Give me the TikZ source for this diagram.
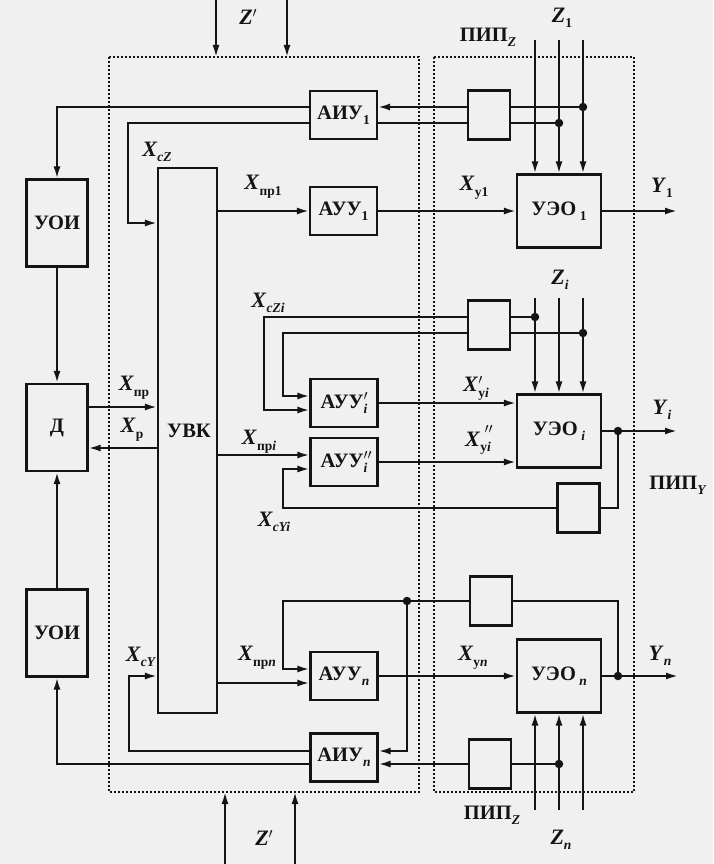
\documentclass[tikz,border=0pt]{standalone}
\usepackage{fontspec}
\setmainfont{Liberation Serif}
\usetikzlibrary{arrows.meta}
\definecolor{ink}{RGB}{20,20,20}
\definecolor{paper}{RGB}{240,240,240}
\newcommand\dn[1]{\raisebox{-0.55ex}{\fontsize{13.5}{13.5}\selectfont\bfseries #1}}
\newcommand\pr{\makebox[0pt][l]{\fontsize{21}{21}\selectfont$^{\prime}$}}
\newcommand\ppr{\makebox[0pt][l]{\fontsize{21}{21}\selectfont$^{\prime\prime}$}}
\newcommand\xl[2]{\textbf{\textit{#1}}\dn{#2}}
\begin{document}
\begin{tikzpicture}[x=1pt,y=-1pt,
  blk/.style={draw=ink, line width=2.2pt, inner sep=0pt, text=ink,
    font=\fontsize{20.5}{20.5}\selectfont\bfseries},
  au/.style={blk, minimum width=67pt, minimum height=48pt},
  pip/.style={blk, minimum width=42pt, minimum height=49pt},
  ueo/.style={blk, minimum width=84pt, minimum height=73pt},
  uoi/.style={blk, minimum width=61pt, minimum height=87pt},
  ln/.style={draw=ink, line width=2pt},
  arr/.style={ln, -{Latex[length=12pt,width=7pt]}},
  dot/.style={circle, fill=ink, inner sep=0pt, minimum size=8.5pt},
  lbl/.style={inner sep=0pt, text=ink, font=\fontsize{22}{22}\selectfont\bfseries},
  blbl/.style={inner sep=0pt, text=ink, font=\fontsize{20.5}{20.5}\selectfont\bfseries},
  dbox/.style={draw=ink, line width=1.6pt, dash pattern=on 2pt off 2pt}]
\fill[paper] (0,0) rectangle (713,864);
\useasboundingbox (0,0) rectangle (713,864);

% dashed frames
\draw[dbox] (109,57) rectangle (419,792);
\draw[dbox] (434,57) rectangle (634,792);

% blocks
\node[uoi] (uoi1) at (57,223) {УОИ};
\node[uoi] (d) at (57,427.5) {Д};
\node[uoi] (uoi2) at (57,633) {УОИ};
\node[blk, minimum width=59pt, minimum height=545pt] (uvk) at (187.5,440.5) {};
\node[blbl] (uvkl) at (189,431) {УВК};

\node[au] (aiu1) at (343.5,115) {АИУ\dn{1}};
\node[au] (auu1) at (343.5,211) {АУУ\dn{1}};
\node[au] (auui1) at (344,403) {АУУ\pr\dn{\textit{i}}};
\node[au] (auui2) at (344,462) {АУУ\ppr\dn{\textit{i}}};
\node[au] (auun) at (344,676) {АУУ\dn{\textit{n}}};
\node[au] (aiun) at (344,757.5) {АИУ\dn{\textit{n}}};

\node[pip] (pz1) at (489,115) {};
\node[pip] (pzi) at (489,325) {};
\node[pip] (pyi) at (578.5,508) {};
\node[pip] (pyn) at (491,601) {};
\node[pip] (pzn) at (490,764) {};

\node[ueo] (ueo1) at (559,211) {УЭО\,\dn{1}};
\node[ueo] (ueoi) at (559,431) {УЭО\,\dn{\textit{i}}};
\node[ueo] (ueon) at (559,676) {УЭО\,\dn{\textit{n}}};

% Z' inputs
\coordinate (zt1) at (216,0);   \coordinate (zt1e) at (216,57);
\coordinate (zt2) at (287,0);   \coordinate (zt2e) at (287,57);
\coordinate (zb1) at (225,864); \coordinate (zb1e) at (225,792);
\coordinate (zb2) at (295,864); \coordinate (zb2e) at (295,792);
\draw[arr] (zt1) -- (zt1e);
\draw[arr] (zt2) -- (zt2e);
\draw[arr] (zb1) -- (zb1e);
\draw[arr] (zb2) -- (zb2e);

% ---------- row 1
\node[dot] (d1a) at (583,107) {};
\node[dot] (d1b) at (559,123) {};
\coordinate (z1a) at (535,40);
\coordinate (z1b) at (559,40);
\coordinate (z1c) at (583,40);
\draw[arr] (z1a) -- (z1a |- ueo1.north);
\draw[arr] (z1b) -- (z1b |- ueo1.north);
\draw[arr] (z1c) -- (z1c |- ueo1.north);
\draw[ln] ([yshift=8pt]pz1.east) -- (d1a);
\draw[ln] ([yshift=-8pt]pz1.east) -- (d1b);
\draw[arr] ([yshift=8pt]pz1.west) -- ([yshift=8pt]aiu1.east);
\draw[ln] ([yshift=-8pt]pz1.west) -- ([yshift=-8pt]aiu1.east);
\draw[arr] ([yshift=8pt]aiu1.west) -| (uoi1.north);
\coordinate (xcz) at (128,223);
\draw[arr] ([yshift=-8pt]aiu1.west) -| (xcz) -- (xcz -| uvk.west);
\draw[arr] (auu1.west -| uvk.east) -- (auu1.west);
\draw[arr] (auu1.east) -- (auu1.east -| ueo1.west);
\coordinate (y1) at (677,211);
\draw[arr] (ueo1.east) -- (y1);

% ---------- left column
\draw[arr] (uoi1.south) -- (d.north);
\draw[arr] (uoi2.north) -- (d.south);
\draw[arr] ([yshift=20.5pt]d.east) -- ([yshift=20.5pt]d.east -| uvk.west);
\draw[arr] ([yshift=-20.5pt]d.east -| uvk.west) -- ([yshift=-20.5pt]d.east);

% ---------- row i
\node[dot] (dia) at (535,317) {};
\node[dot] (dib) at (583,333) {};
\coordinate (zia) at (535,298);
\coordinate (zib) at (559,298);
\coordinate (zic) at (583,298);
\draw[arr] (zia) -- (zia |- ueoi.north);
\draw[arr] (zib) -- (zib |- ueoi.north);
\draw[arr] (zic) -- (zic |- ueoi.north);
\draw[ln] ([yshift=8pt]pzi.east) -- (dia);
\draw[ln] ([yshift=-8pt]pzi.east) -- (dib);
\coordinate (lo1) at (264,410);
\coordinate (lo2) at (283,396);
\draw[arr] ([yshift=8pt]pzi.west) -| (lo1) -- (lo1 -| auui1.west);
\draw[arr] ([yshift=-8pt]pzi.west) -| (lo2) -- (lo2 -| auui1.west);
\draw[arr] ([yshift=7pt]auui2.west -| uvk.east) -- ([yshift=7pt]auui2.west);
\coordinate (lo3) at (283,469);
\draw[arr] (pyi.west) -| (lo3) -- (lo3 -| auui2.west);
\draw[arr] (auui1.east) -- (auui1.east -| ueoi.west);
\draw[arr] (auui2.east) -- (auui2.east -| ueoi.west);
\node[dot] (dyi) at (618,431) {};
\coordinate (yi) at (677,431);
\draw[ln] (ueoi.east) -- (dyi);
\draw[arr] (dyi) -- (yi);
\draw[ln] (pyi.east) -| (dyi);

% ---------- row n
\node[dot] (dn1) at (407,601) {};
\node[dot] (dyn) at (618,676) {};
\node[dot] (dzn) at (559,764) {};
\coordinate (lo4) at (283,669);
\draw[ln] (pyn.west) -- (dn1);
\draw[arr] (dn1) -| (lo4) -- (lo4 -| auun.west);
\draw[arr] (dn1) |- ([yshift=6.5pt]aiun.east);
\draw[ln] (pyn.east) -| (dyn);
\draw[arr] ([yshift=-7pt]auun.west -| uvk.east) -- ([yshift=-7pt]auun.west);
\draw[arr] (auun.east) -- (auun.east -| ueon.west);
\coordinate (yn) at (678,676);
\draw[ln] (ueon.east) -- (dyn);
\draw[arr] (dyn) -- (yn);
\coordinate (zna) at (535,810);
\coordinate (znb) at (559,810);
\coordinate (znc) at (583,810);
\draw[arr] (zna) -- (zna |- ueon.south);
\draw[arr] (znb) -- (znb |- ueon.south);
\draw[arr] (znc) -- (znc |- ueon.south);
\draw[ln] (pzn.east) -- (dzn);
\draw[arr] (pzn.west) -- (pzn.west -| aiun.east);
\coordinate (xcy) at (129,676);
\draw[arr] ([yshift=6.5pt]aiun.west) -| (xcy) -- (xcy -| uvk.west);
\draw[arr] ([yshift=-6.5pt]aiun.west) -| (uoi2.south);

% ---------- labels
\node[lbl] (lzt) at (246,17) {\textit{Z}\pr\hspace{0.3em}};
\node[lbl] (lzb) at (262,838) {\textit{Z}\pr\hspace{0.3em}};
\node[lbl] (lz1) at (562,18) {\xl{Z}{1}};
\node[blbl] (lpz1) at (488,37) {ПИП\dn{\textit{Z}}};
\node[lbl] (lxcz) at (157,152) {\xl{X}{\textit{сZ}}};
\node[lbl] (lxp1) at (263,187) {\xl{X}{пр1}};
\node[lbl] (lxy1) at (474,188) {\xl{X}{у1}};
\node[lbl] (ly1) at (662,188) {\xl{Y}{1}};
\node[lbl] (lzi) at (560,280) {\xl{Z}{\textit{i}}};
\node[lbl] (lxczi) at (268,303) {\xl{X}{\textit{сZi}}};
\node[lbl] (lxp) at (134,388) {\xl{X}{пр}};
\node[lbl] (lxr) at (132,430) {\xl{X}{р}};
\node[lbl] (lxy1i) at (476,388) {\textbf{\textit{X}}\pr\dn{у\textit{i}}};
\node[lbl] (lxy2i) at (478,440) {\textbf{\textit{X}}\makebox[0pt][l]{\raisebox{0.5ex}{\hspace{0.2em}\fontsize{21}{21}\selectfont$^{\prime\prime}$}}\dn{у\textit{i}}};
\node[lbl] (lyi) at (662,410) {\xl{Y}{\textit{i}}};
\node[blbl] (lpyi) at (678,485) {ПИП\dn{\textit{Y}}};
\node[lbl] (lxpi) at (259,442) {\xl{X}{пр\textit{i}}};
\node[lbl] (lxcyi) at (274,522) {\xl{X}{\textit{сYi}}};
\node[lbl] (lxcy) at (141,657) {\xl{X}{\textit{сY}}};
\node[lbl] (lxpn) at (257,658) {\xl{X}{пр\textit{n}}};
\node[lbl] (lxyn) at (473,658) {\xl{X}{у\textit{n}}};
\node[lbl] (lyn) at (660,656) {\xl{Y}{\textit{n}}};
\node[blbl] (lpzn) at (492,815) {ПИП\dn{\textit{Z}}};
\node[lbl] (lzn) at (561,840) {\xl{Z}{\textit{n}}};
\end{tikzpicture}
\end{document}
